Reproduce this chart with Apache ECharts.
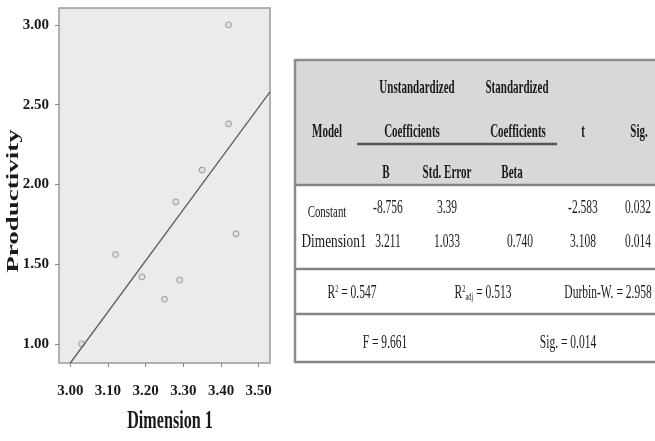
<!DOCTYPE html>
<html lang="en">

<head>
    <meta charset="UTF-8" />
    <title>Productivity vs Dimension 1</title>
    <script src="https://cdn.jsdelivr.net/npm/echarts@6/dist/echarts.min.js"></script>
    <style>
        html, body { margin: 0; padding: 0; background: #fff; }
        #chart { width: 655px; height: 441px; }
    </style>
</head>

<body>
    <div id="chart"></div>

    <script>
        // scatter data
        const dimension1 = [3.42, 3.42, 3.35, 3.28, 3.44, 3.12, 3.19, 3.29, 3.25, 3.03];
        const productivity = [3.00, 2.38, 2.09, 1.89, 1.69, 1.56, 1.42, 1.40, 1.28, 1.00];
        // fitted line end points
        const fitX = [3.00, 3.53];
        const fitY = [0.88, 2.58];
        // tick labels
        const xTicks = [3.0, 3.1, 3.2, 3.3, 3.4, 3.5];
        const yTicks = [1.0, 1.5, 2.0, 2.5, 3.0];

        // coefficient table
        const headTop = ['Unstandardized', 'Standardized'];
        const headMid = ['Model', 'Coefficients', 'Coefficients', 't', 'Sig.'];
        const headSub = ['B', 'Std. Error', 'Beta'];
        const rowNames = ['Constant', 'Dimension1'];
        const coefB = ['-8.756', '3.211'];
        const coefSE = ['3.39', '1.033'];
        const coefBeta = ['', '0.740'];
        const coefT = ['-2.583', '3.108'];
        const coefSig = ['0.032', '0.014'];
        const r2 = '0.547';
        const r2adj = '0.513';
        const durbinW = '2.958';
        const fValue = '9.661';
        const fSig = '0.014';

        const SERIF = '"Liberation Serif", "Times New Roman", serif';
        const SX = 0.64; // the reference text is narrow

        function txt(x, y, text, size, bold, sx) {
            return {
                type: 'text', x: x, y: y, scaleX: sx || SX, z: 10,
                style: {
                    text: text,
                    font: (bold ? 'bold ' : '') + size + 'px ' + SERIF,
                    fill: '#1a1a1a',
                    textAlign: 'center',
                    textVerticalAlign: 'middle'
                }
            };
        }
        function hline(x1, x2, y, w, c) {
            return { type: 'line', z: 5, shape: { x1: x1, y1: y, x2: x2, y2: y }, style: { stroke: c || '#858585', lineWidth: w || 2.5 } };
        }

        const colX = [327, 388, 447, 520, 583, 638];
        const HS = 19, HSX = 0.58; // header font
        const tableEls = [];
        // header background + frame
        tableEls.push({ type: 'rect', z: 1, shape: { x: 295, y: 60, width: 360, height: 125 }, style: { fill: '#d8d8d8' } });
        tableEls.push(hline(295, 655, 60, 2.5, '#8c8c8c'));
        tableEls.push({ type: 'line', z: 5, shape: { x1: 295, y1: 59, x2: 295, y2: 363 }, style: { stroke: '#8c8c8c', lineWidth: 2.5 } });
        tableEls.push(hline(295, 655, 185));
        tableEls.push(hline(295, 655, 269));
        tableEls.push(hline(295, 655, 314));
        tableEls.push(hline(295, 655, 362));
        tableEls.push(hline(357, 557, 144, 2.5, '#555'));

        // header text
        tableEls.push(txt(417, 88, headTop[0], HS, true, HSX));
        tableEls.push(txt(517, 88, headTop[1], HS, true, HSX));
        tableEls.push(txt(327, 132, headMid[0], HS, true, HSX));
        tableEls.push(txt(412, 132, headMid[1], HS, true, HSX));
        tableEls.push(txt(518, 132, headMid[2], HS, true, HSX));
        tableEls.push(txt(583, 132, headMid[3], HS, true, HSX));
        tableEls.push(txt(639, 132, headMid[4], HS, true, HSX));
        tableEls.push(txt(386, 173, headSub[0], HS, true, HSX));
        tableEls.push(txt(447, 173, headSub[1], HS, true, HSX));
        tableEls.push(txt(512, 173, headSub[2], HS, true, HSX));

        // body rows
        const rowY = [208, 242];
        rowNames.forEach(function (name, i) {
            tableEls.push(txt(i === 0 ? 327 : 334, i === 0 ? 213 : 242, name, i === 0 ? 17 : 19, false, i === 0 ? SX : 0.7));
            tableEls.push(txt(colX[1], rowY[i], coefB[i], 18, false));
            tableEls.push(txt(colX[2], rowY[i], coefSE[i], 18, false));
            tableEls.push(txt(colX[3], rowY[i], coefBeta[i], 18, false));
            tableEls.push(txt(colX[4], rowY[i], coefT[i], 18, false));
            tableEls.push(txt(colX[5], rowY[i], coefSig[i], 18, false));
        });

        // fit statistics
        const richSup = {
            n: { fontSize: 18, fontFamily: SERIF, fill: '#1a1a1a' },
            sup: { fontSize: 10, fontFamily: SERIF, fill: '#1a1a1a', verticalAlign: 'top', padding: [0, 0, 8, 0] },
            sub: { fontSize: 10, fontFamily: SERIF, fill: '#1a1a1a', verticalAlign: 'bottom', padding: [6, 0, 0, 0] }
        };
        let el = txt(352, 293, '{n|R}{sup|2}{n| = ' + r2 + '}', 18, false);
        el.style.rich = richSup;
        tableEls.push(el);
        el = txt(483, 293, '{n|R}{sup|2}{sub|adj}{n| = ' + r2adj + '}', 18, false);
        el.style.rich = richSup;
        tableEls.push(el);
        tableEls.push(txt(608, 293, 'Durbin-W. = ' + durbinW, 18, false));
        tableEls.push(txt(385, 343, 'F = ' + fValue, 18, false));
        tableEls.push(txt(568, 343, 'Sig. = ' + fSig, 18, false));

        // axis names
        tableEls.push({
            type: 'text', x: 14, y: 201, rotation: Math.PI / 2, scaleY: 0.62, z: 10,
            style: { text: 'Productivity', font: 'bold 27px ' + SERIF, fill: '#1a1a1a', textAlign: 'center', textVerticalAlign: 'middle' }
        });
        tableEls.push({
            type: 'text', x: 170, y: 421, scaleX: 0.62, z: 10,
            style: { text: 'Dimension 1', font: 'bold 26px ' + SERIF, fill: '#1a1a1a', textAlign: 'center', textVerticalAlign: 'middle' }
        });

        const chart = echarts.init(document.getElementById('chart'));
        const option = {
            animation: false,
            backgroundColor: '#fff',
            grid: {
                left: 59, top: 8, right: 385, bottom: 78,
                show: true, backgroundColor: '#ebebeb', borderColor: '#9a9a9a', borderWidth: 1.5,
                outerBoundsMode: 'none'
            },
            xAxis: {
                type: 'value', min: 2.97, max: 3.53,
                axisLine: { show: false },
                splitLine: { show: false },
                axisTick: { show: true, length: 4, customValues: xTicks, lineStyle: { color: '#8a8a8a' } },
                axisLabel: {
                    customValues: xTicks, margin: 21,
                    formatter: function (v) { return v.toFixed(2); },
                    fontFamily: SERIF, fontWeight: 'bold', fontSize: 15, color: '#1a1a1a'
                }
            },
            yAxis: {
                type: 'value', min: 0.88, max: 3.106,
                axisLine: { show: false },
                splitLine: { show: false },
                axisTick: { show: true, length: 4, customValues: yTicks, lineStyle: { color: '#8a8a8a' } },
                axisLabel: {
                    customValues: yTicks, margin: 10,
                    formatter: function (v) { return v.toFixed(2); },
                    fontFamily: SERIF, fontWeight: 'bold', fontSize: 15, color: '#1a1a1a'
                }
            },
            graphic: tableEls,
            series: [
                {
                    type: 'line',
                    data: fitX.map(function (x, i) { return [x, fitY[i]]; }),
                    symbol: 'none',
                    clip: true,
                    lineStyle: { color: '#5e5e5e', width: 1.3 }
                },
                {
                    type: 'scatter',
                    data: dimension1.map(function (x, i) { return [x, productivity[i]]; }),
                    symbolSize: 6,
                    itemStyle: { color: '#dcdcdc', borderColor: '#8a8a8a', borderWidth: 1 }
                }
            ]
        };
        chart.setOption(option);
    </script>
</body>

</html>
